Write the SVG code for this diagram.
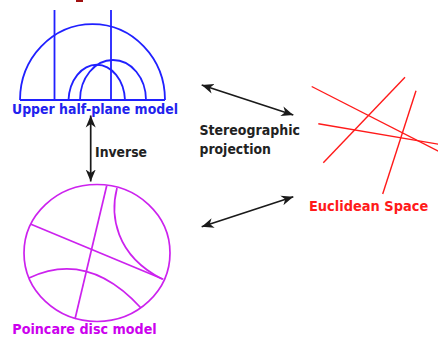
<svg xmlns="http://www.w3.org/2000/svg" width="438" height="338" viewBox="0 0 438 338">
<defs>
<style>
text{font-family:"DejaVu Sans","Liberation Sans",sans-serif;font-weight:bold;font-size:13.5px}
.blue{fill:none;stroke:#2020ff;stroke-width:1.8}
.mag{fill:none;stroke:#cc22ee;stroke-width:1.7}
.red{fill:none;stroke:#ff1a1a;stroke-width:1.4}
.arr{fill:none;stroke:#1a1a1a;stroke-width:1.7;marker-start:url(#ah);marker-end:url(#ah)}
</style>
<marker id="ah" markerUnits="userSpaceOnUse" markerWidth="13" markerHeight="11" refX="12" refY="5" orient="auto-start-reverse" viewBox="0 0 13 10">
<path d="M0,0 L12,5 L0,10 L3.5,5 z" fill="#1a1a1a"/>
</marker>
</defs>
<rect x="76" y="0" width="7" height="2" fill="#a01010"/>
<g id="upper-half-plane">
<line class="blue" x1="20" y1="100" x2="165" y2="100"/>
<path class="blue" d="M20,100 A72.5,76 0 0 1 165,100"/>
<line class="blue" x1="54.5" y1="10" x2="54.5" y2="100"/>
<line class="blue" x1="111" y1="10" x2="111" y2="100"/>
<path class="blue" d="M68.5,100 A28.3,37.5 0 0 1 125,100"/>
<path class="blue" d="M80,100 A33,40 0 0 1 146,100"/>
<text x="12" y="113.5" fill="#2222ee" textLength="166" lengthAdjust="spacingAndGlyphs">Upper half-plane model</text>
</g>
<g id="poincare-disc">
<ellipse class="mag" cx="97" cy="253" rx="73" ry="68.5"/>
<line class="mag" x1="31" y1="224.3" x2="163.3" y2="279.3"/>
<line class="mag" x1="106.7" y1="185.7" x2="75" y2="319"/>
<path class="mag" d="M117,188 C110,215 115,255 162,279"/>
<path class="mag" d="M29,278 Q88,250 141,308"/>
<text x="12.3" y="334" fill="#cc00ee" textLength="144.4" lengthAdjust="spacingAndGlyphs">Poincare disc model</text>
</g>
<g id="euclidean-space">
<line class="red" x1="311.7" y1="86.5" x2="440" y2="152"/>
<line class="red" x1="405" y1="77.3" x2="323.3" y2="162.7"/>
<line class="red" x1="416" y1="90.7" x2="382.7" y2="194"/>
<line class="red" x1="318.3" y1="123.8" x2="440" y2="144.5"/>
<text x="309" y="211" fill="#ff1a1a" textLength="119.3" lengthAdjust="spacingAndGlyphs">Euclidean Space</text>
</g>
<g id="connectors">
<line class="arr" x1="90.7" y1="115.5" x2="90.7" y2="181.5"/>
<line class="arr" x1="201.7" y1="85" x2="293.3" y2="115"/>
<line class="arr" x1="201.7" y1="226.7" x2="293.3" y2="196.7"/>
<text x="95" y="157" fill="#222" textLength="52" lengthAdjust="spacingAndGlyphs">Inverse</text>
<text x="199.5" y="135" fill="#222" textLength="100.5" lengthAdjust="spacingAndGlyphs">Stereographic</text>
<text x="199.5" y="154" fill="#222" textLength="71.4" lengthAdjust="spacingAndGlyphs">projection</text>
</g>
</svg>
